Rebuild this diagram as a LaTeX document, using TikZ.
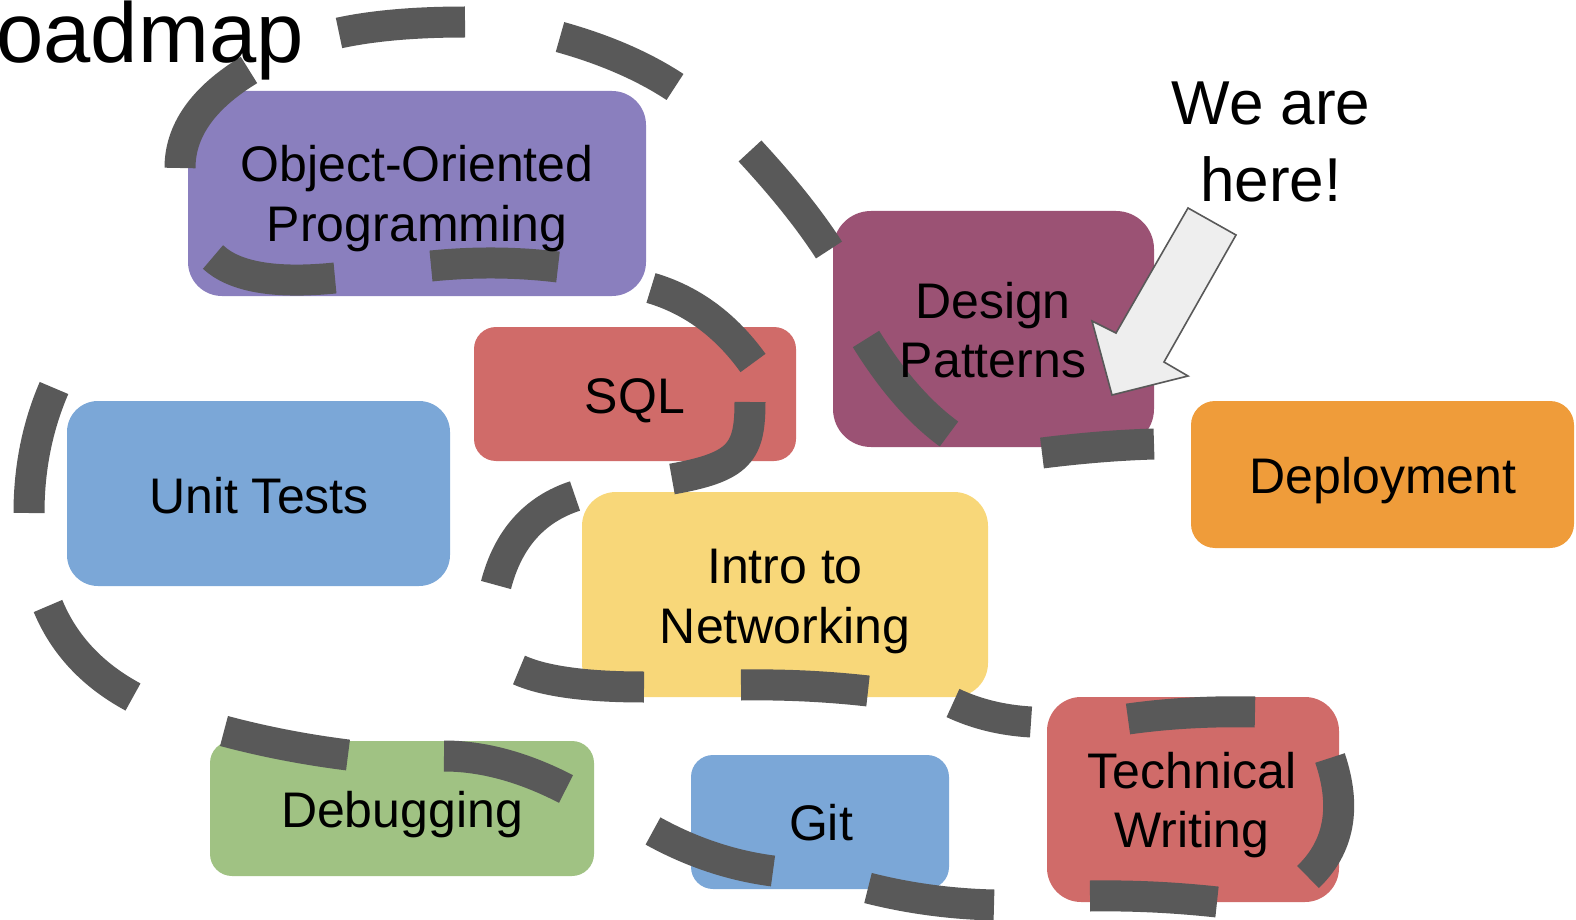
\documentclass[tikz,border=0pt]{standalone}
\usepackage{fontspec}
\setmainfont{Liberation Sans}
\usetikzlibrary{calc}
\definecolor{oopc}{HTML}{8A7FBE}
\definecolor{dpc}{HTML}{9B5274}
\definecolor{sqlc}{HTML}{D06B69}
\definecolor{unitc}{HTML}{7BA7D7}
\definecolor{depc}{HTML}{EF9C3A}
\definecolor{netc}{HTML}{F8D779}
\definecolor{dbgc}{HTML}{A0C283}
\definecolor{roadgray}{HTML}{595959}
\definecolor{arrowfill}{HTML}{EEEEEE}
\tikzset{
  box/.style={rectangle, inner sep=0pt, draw=none},
  road/.style={draw=roadgray, line width=15.5pt, line cap=butt},
  quad/.style={to path={.. controls ($(\tikztostart)!0.6667!#1$) and ($(\tikztotarget)!0.6667!#1$) .. (\tikztotarget)}},
  lbl/.style={inner sep=0pt, anchor=base, font=\fontsize{25}{30}\selectfont},
  biglbl/.style={inner sep=0pt, anchor=base, font=\fontsize{31}{37}\selectfont},
  titlelbl/.style={inner sep=0pt, anchor=base east, font=\fontsize{42.5}{50}\selectfont},
  hereshape/.style={fill=arrowfill, draw=roadgray, line width=0.8pt, line join=miter},
}
\begin{document}
\begin{tikzpicture}[x=0.5pt, y=-0.5pt]
\useasboundingbox (0,0) rectangle (1576,920);
% boxes
\node[box, fill=oopc, rounded corners=17pt, minimum width=229pt, minimum height=102.5pt] (oop) at (417,193.5) {};
\node[box, fill=dpc, rounded corners=19pt, minimum width=160.5pt, minimum height=118pt] (dp) at (993.5,329) {};
\node[box, fill=sqlc, rounded corners=11pt, minimum width=161pt, minimum height=67pt] (sql) at (635,394) {};
\node[box, fill=unitc, rounded corners=15.5pt, minimum width=191.5pt, minimum height=92.5pt] (unit) at (258.5,493.5) {};
\node[box, fill=depc, rounded corners=12pt, minimum width=191.5pt, minimum height=73.5pt] (dep) at (1382.5,474.5) {};
\node[box, fill=netc, rounded corners=17pt, minimum width=203pt, minimum height=102.5pt] (net) at (785,594.5) {};
\node[box, fill=sqlc, rounded corners=17pt, minimum width=146pt, minimum height=102.5pt] (tw) at (1193,799.5) {};
\node[box, fill=dbgc, rounded corners=11pt, minimum width=192pt, minimum height=67.5pt] (dbg) at (402,808.5) {};
\node[box, fill=unitc, rounded corners=11pt, minimum width=129pt, minimum height=67pt] (git) at (820,822) {};
% road dashes
\draw[road] (339,33) to[quad={(390,22)}] (465,22);
\draw[road] (560,37) to[quad={(628,56)}] (675,87);
\draw[road] (750,151) to[quad={(800,205)}] (829,250);
\draw[road] (866,339) to[quad={(905,402)}] (949,434);
\draw[road] (1042,453) to[quad={(1102,445.5)}] (1154,444);
\draw[road] (249,70) to[quad={(180,112)}] (180,168);
\draw[road] (213,257) to[quad={(245,287)}] (335,278);
\draw[road] (431,266) to[quad={(495.5,259.5)}] (558,267);
\draw[road] (651,288) to[quad={(712,306)}] (753,363);
\draw[road] (750,402) .. controls (750,452) and (740,467) .. (672,479);
\draw[road] (575,496) to[quad={(514,516)}] (496,585);
\draw[road] (519,670) to[quad={(557,687)}] (644,687);
\draw[road] (741,685) to[quad={(805.5,684)}] (868,691);
\draw[road] (953,703) to[quad={(988,719.5)}] (1031,722);
\draw[road] (1128,719) to[quad={(1188.5,710.5)}] (1255,712);
\draw[road] (1330,758) to[quad={(1355,832)}] (1308,877);
\draw[road] (1090,896) to[quad={(1152.5,895)}] (1217,902);
\draw[road] (868,888) to[quad={(929,903.5)}] (994,905);
\draw[road] (653,831) to[quad={(711,863)}] (773,871);
\draw[road] (444,756) to[quad={(502,756)}] (566,789);
\draw[road] (224,731) to[quad={(284,747)}] (348,755);
\draw[road] (48,606) to[quad={(72,664)}] (133,697);
\draw[road] (54,388) to[quad={(29,446)}] (29,513);
% "we are here" arrow
\draw[hereshape] (1188,208) -- (1236,235) -- (1164,362) -- (1188,376) -- (1112,395) -- (1092,321) -- (1116,333) -- cycle;
% labels
\node[lbl] (oopA) at (417,182) {Object-Oriented};
\node[lbl] (oopB) at (417,242) {Programming};
\node[lbl] (dpA) at (993,318) {Design};
\node[lbl] (dpB) at (993,377) {Patterns};
\node[lbl] (sqlT) at (635,413) {SQL};
\node[lbl] (unitT) at (259,513) {Unit Tests};
\node[lbl] (depT) at (1383,493) {Deployment};
\node[lbl] (netA) at (785,583) {Intro to};
\node[lbl] (netB) at (785,643) {Networking};
\node[lbl] (twA) at (1192,788) {Technical};
\node[lbl] (twB) at (1192,847) {Writing};
\node[lbl] (dbgT) at (402,827) {Debugging};
\node[lbl] (gitT) at (821,840) {Git};
\node[biglbl] (hereA) at (1271,125) {We are};
\node[biglbl] (hereB) at (1271,202) {here!};
\node[titlelbl] (ttl) at (304,63) {oadmap};
\end{tikzpicture}
\end{document}
